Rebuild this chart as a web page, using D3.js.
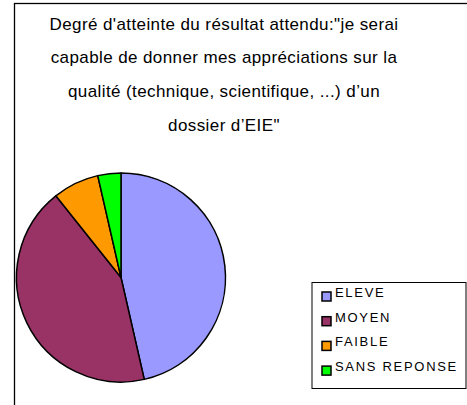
<!DOCTYPE html>
<html>
<head>
<meta charset="utf-8">
<script src="https://cdn.jsdelivr.net/npm/d3@7"></script>
<style>
  body { margin: 0; background: #fff; }
  text { font-family: "Liberation Sans", Arial, sans-serif; fill: #000; }
</style>
</head>
<body>
<svg id="chart" width="467" height="405"></svg>
<script>
// chart data
const categories = ["ELEVE", "MOYEN", "FAIBLE", "SANS REPONSE"];
const counts = [13, 12, 2, 1];
const colors = ["#9999ff", "#993366", "#ff9900", "#00ff00"];
const titleLines = [
    "Degré d'atteinte du résultat attendu:\"je serai",
    "capable de donner mes appréciations sur la",
    "qualité (technique, scientifique, ...) d\u2019un",
    "dossier d\u2019EIE\""
];

const svg = d3.select("#chart");

// outer frame (runs off the right and bottom of the picture)
svg.append("rect")
    .attr("x", 14.5).attr("y", 3.5)
    .attr("width", 600).attr("height", 600)
    .attr("fill", "none")
    .attr("stroke", "#000")
    .attr("stroke-width", 1.3);

// title
svg.append("g").selectAll("text")
    .data(titleLines)
    .join("text")
    .attr("x", 224)
    .attr("y", (d, i) => 29.5 + i * 33.8)
    .attr("text-anchor", "middle")
    .style("font-size", "17px")
    .style("letter-spacing", "0.4px")
    .text(d => d);

// pie
const cx = 121, cy = 277.5, r = 104.5;
const pie = d3.pie().sort(null).value(d => d)(counts);
const arc = d3.arc().innerRadius(0).outerRadius(r);

svg.append("g")
    .attr("transform", `translate(${cx},${cy})`)
    .selectAll("path")
    .data(pie)
    .join("path")
    .attr("d", arc)
    .attr("fill", (d, i) => colors[i])
    .attr("stroke", "#000")
    .attr("stroke-width", 1.5)
    .attr("stroke-linejoin", "round");

// legend
const legend = svg.append("g");
legend.append("rect")
    .attr("x", 312).attr("y", 282.5)
    .attr("width", 154).attr("height", 106)
    .attr("fill", "#fff")
    .attr("stroke", "#000")
    .attr("stroke-width", 1);

const rows = legend.selectAll("g.item")
    .data(categories)
    .join("g")
    .attr("class", "item")
    .attr("transform", (d, i) => `translate(0,${297 + i * 24.7})`);

rows.append("rect")
    .attr("x", 322).attr("y", -5)
    .attr("width", 9).attr("height", 9)
    .attr("fill", (d, i) => colors[i])
    .attr("stroke", "#000")
    .attr("stroke-width", 1.5);

rows.append("text")
    .attr("x", 335).attr("y", 0)
    .style("font-size", "13px")
    .style("letter-spacing", "1.7px")
    .text(d => d);
</script>
</body>
</html>
